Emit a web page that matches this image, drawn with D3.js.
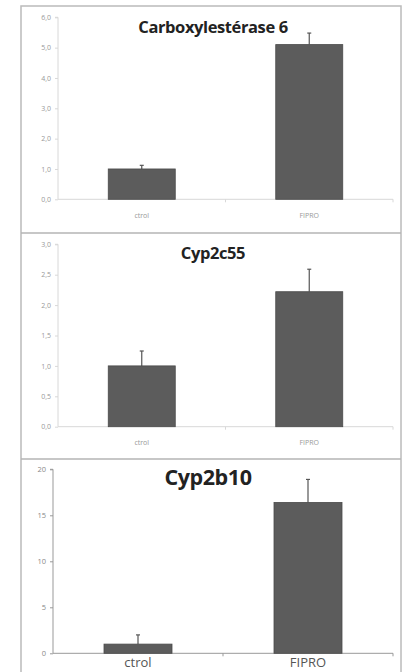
<!DOCTYPE html>
<html><head><meta charset="utf-8">
<script src="https://cdn.jsdelivr.net/npm/d3@7"></script>
<style>body{margin:0;background:#fff}svg{display:block}</style>
</head><body>
<svg id="c" width="403" height="672"></svg>
<script>
const categories = ["ctrol", "FIPRO"];
const titles = ["Carboxylestérase 6", "Cyp2c55", "Cyp2b10"];
const means1 = [1.0, 5.1];
const errs1 = [0.12, 0.38];
const means2 = [1.0, 2.22];
const errs2 = [0.245, 0.37];
const means3 = [1.0, 16.4];
const errs3 = [1.0, 2.5];
const ticks1 = [0, 1, 2, 3, 4, 5, 6];
const ticks2 = [0, 0.5, 1, 1.5, 2, 2.5, 3];
const ticks3 = [0, 5, 10, 15, 20];

const svg = d3.select("#c");
const fmtC = d => d.toFixed(1).replace(".", ",");

// frame
svg.append("rect").attr("x", 21).attr("y", 6).attr("width", 380).attr("height", 680)
  .attr("fill", "none").attr("stroke", "#bbb").attr("stroke-width", 1.5);
[233, 459].forEach(y => svg.append("line").attr("x1", 21).attr("x2", 401).attr("y1", y).attr("y2", y)
  .attr("stroke", "#b5b5b5").attr("stroke-width", 1.5));

const panels = [
  {means: means1, errs: errs1, ticks: ticks1, max: 6, y0: 199.3, y1: 17.3, x0: 58, x1: 393, fmt: fmtC,
   title: titles[0], tx: 213, ty: 33, tfs: 16.5, axis: "#d8d8d8", tickFs: 7, tickCol: "#999", xlFs: 7, xlCol: "#999", xlY: 218},
  {means: means2, errs: errs2, ticks: ticks2, max: 3, y0: 426.7, y1: 244.3, x0: 58, x1: 393, fmt: fmtC,
   title: titles[1], tx: 213, ty: 259, tfs: 16.5, axis: "#d8d8d8", tickFs: 7, tickCol: "#999", xlFs: 7, xlCol: "#999", xlY: 445},
  {means: means3, errs: errs3, ticks: ticks3, max: 20, y0: 653.3, y1: 469.3, x0: 53, x1: 393, fmt: d3.format("d"),
   title: titles[2], tx: 208, ty: 485, tfs: 21.5, axis: "#999", tickFs: 7.5, tickCol: "#888", xlFs: 13, xlCol: "#555", xlY: 667}
];

panels.forEach(p => {
  const g = svg.append("g");
  const x = d3.scaleBand().domain(categories).range([p.x0, p.x1]).padding(0);
  const y = d3.scaleLinear().domain([0, p.max]).range([p.y0, p.y1]);

  // y axis
  const ya = d3.axisLeft(y).tickValues(p.ticks).tickFormat(p.fmt).tickSize(3).tickPadding(4);
  const yg = g.append("g").attr("transform", `translate(${p.x0},0)`).call(ya);
  yg.select(".domain").attr("stroke", p.axis).attr("d", `M-3,${p.y1}H0V${p.y0}`);
  yg.selectAll(".tick line").attr("stroke", p.axis);
  yg.selectAll(".tick text").attr("fill", p.tickCol).attr("font-size", p.tickFs)
    .attr("font-family", "Open Sans, sans-serif");

  // x axis
  const xg = g.append("g").attr("transform", `translate(0,${p.y0})`);
  xg.append("line").attr("x1", p.x0).attr("x2", p.x1).attr("stroke", p.axis).attr("stroke-width", 1);
  [p.x0 + x.step(), p.x1].forEach(t => xg.append("line").attr("x1", t).attr("x2", t).attr("y1", 0).attr("y2", 3)
    .attr("stroke", p.axis));
  xg.selectAll("text.xl").data(categories).join("text").attr("class", "xl")
    .attr("x", d => x(d) + x.bandwidth() / 2).attr("y", p.xlY - p.y0)
    .attr("text-anchor", "middle").attr("font-size", p.xlFs).attr("fill", p.xlCol)
    .attr("font-family", "Open Sans, sans-serif").text(d => d);

  const bw = x.bandwidth() * 0.4;
  // error bars
  g.selectAll("line.err").data(categories).join("line").attr("class", "err")
    .attr("x1", d => x(d) + x.bandwidth() / 2).attr("x2", d => x(d) + x.bandwidth() / 2)
    .attr("y1", (d, i) => y(p.means[i])).attr("y2", (d, i) => y(p.means[i] + p.errs[i]))
    .attr("stroke", "#555").attr("stroke-width", 1.2);
  g.selectAll("line.cap").data(categories).join("line").attr("class", "cap")
    .attr("x1", d => x(d) + x.bandwidth() / 2 - 2).attr("x2", d => x(d) + x.bandwidth() / 2 + 2)
    .attr("y1", (d, i) => y(p.means[i] + p.errs[i])).attr("y2", (d, i) => y(p.means[i] + p.errs[i]))
    .attr("stroke", "#555").attr("stroke-width", 1.2);
  // bars
  g.selectAll("rect.bar").data(categories).join("rect").attr("class", "bar")
    .attr("x", d => x(d) + (x.bandwidth() - bw) / 2).attr("width", bw)
    .attr("y", (d, i) => y(p.means[i])).attr("height", (d, i) => p.y0 - y(p.means[i]))
    .attr("fill", "#5c5c5c").attr("stroke", "#4a4a4a").attr("stroke-width", 0.8);

  // title
  g.append("text").attr("x", p.tx).attr("y", p.ty).attr("text-anchor", "middle")
    .attr("font-size", p.tfs).attr("font-weight", "bold").attr("fill", "#222")
    .attr("font-family", "Open Sans, sans-serif").attr("letter-spacing", -0.4).text(p.title);
});
</script>
</body></html>
